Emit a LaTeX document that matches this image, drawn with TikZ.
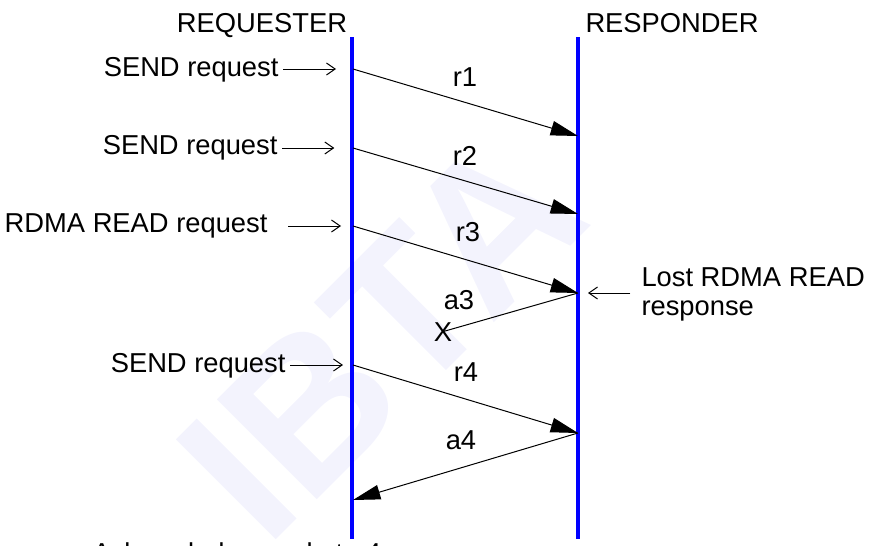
\documentclass[tikz,border=0pt]{standalone}
\usepackage{fontspec}
\setmainfont{Liberation Sans}
\usetikzlibrary{arrows.meta}
\tikzset{every picture/.style={line width=0.75pt}}

\begin{document}
\begin{tikzpicture}[x=0.75pt,y=0.75pt,yscale=-1,xscale=1,
  lifeline/.style={color={rgb, 255:red, 0; green, 0; blue, 255}, line width=3.6pt},
  msg/.style={-{Triangle[length=20.5pt,width=11pt]}},
  pointer/.style={-{Straight Barb[length=6.5pt,width=9pt]}},
  lbl/.style={inner sep=0pt, font=\fontsize{20.5}{21.75}\selectfont},
  watermark/.style={inner sep=0pt, rotate=45, color={rgb, 255:red, 243; green, 243; blue, 253}, font=\fontsize{154}{154}\selectfont\bfseries}]
\useasboundingbox (0,0) rectangle (879,546);

% Watermark
\node (ibta) [watermark] at (381,336) {IBTA};

% Lifelines
\coordinate (reqtop) at (352,37);
\coordinate (reqbot) at (352,539);
\coordinate (restop) at (578,37);
\coordinate (resbot) at (578,539);
\draw [lifeline] (reqtop) -- (reqbot);
\draw [lifeline] (restop) -- (resbot);

% Message points
\coordinate (q1) at (353,69);
\coordinate (p1) at (578,136);
\coordinate (q2) at (353,148);
\coordinate (p2) at (578,214);
\coordinate (q3) at (353,226);
\coordinate (p3) at (578,293);
\coordinate (q4) at (353,365);
\coordinate (p4) at (578,433);
\coordinate (q5) at (353,500);

% Text Node
\node (reqname) [lbl, anchor=base] at (262,32) {REQUESTER};
% Text Node
\node (resname) [lbl, anchor=base west] at (585,32) {RESPONDER};
% Text Node
\node (send1) [lbl, anchor=base east] at (279,76) {SEND request};
% Text Node
\node (send2) [lbl, anchor=base east] at (278,154) {SEND request};
% Text Node
\node (read3) [lbl, anchor=base east] at (268,232) {RDMA READ request};
% Text Node
\node (send4) [lbl, anchor=base east] at (286,372) {SEND request};
% Text Node
\node (lostnote) [lbl, anchor=base west, align=left] at (641,315) {Lost RDMA READ\\response};
% Text Node
\node (acknote) [lbl, anchor=base west] at (92,562) {Acknowledge packet a4};

% Text Node
\node (r1) [lbl, anchor=base] at (465,86) {r1};
% Text Node
\node (r2) [lbl, anchor=base] at (465,165) {r2};
% Text Node
\node (r3) [lbl, anchor=base] at (468,241) {r3};
% Text Node
\node (a3) [lbl, anchor=base] at (459,309) {a3};
% Text Node
\node (lostx) [lbl, anchor=base] at (443,341) {X};
% Text Node
\node (r4) [lbl, anchor=base] at (466,381) {r4};
% Text Node
\node (a4) [lbl, anchor=base] at (461,449) {a4};

%Straight Lines
\draw [pointer, shorten <=3pt, shorten >=12.75pt] (send1.east |- q1) -- (q1);
\draw [pointer, shorten <=3pt, shorten >=14pt] (send2.east |- q2) -- (q2);
\draw [pointer, shorten <=15pt, shorten >=9pt] (read3.east |- q3) -- (q3);
\draw [pointer, shorten <=3pt, shorten >=7.5pt] (send4.east |- q4) -- (q4);
\draw [pointer, shorten <=8pt, shorten >=7.5pt] (lostnote.west |- p3) -- (p3);

%Straight Lines
\draw [msg] (q1) -- (p1);
\draw [msg] (q2) -- (p2);
\draw [msg] (q3) -- (p3);
\draw (p3) -- (lostx.center);
\draw [msg] (q4) -- (p4);
\draw [msg] (p4) -- (q5);

\end{tikzpicture}
\end{document}
